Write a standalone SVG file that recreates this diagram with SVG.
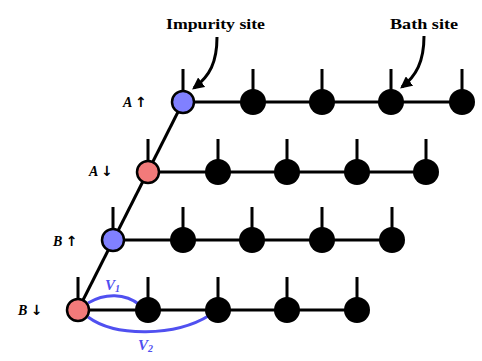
<svg xmlns="http://www.w3.org/2000/svg" width="482" height="361" viewBox="0 0 482 361">
<defs>
<style>
.ln{stroke:#000;stroke-width:3;fill:none;stroke-linecap:butt}
.bath{fill:#000}
.imp{stroke:#000;stroke-width:2.5}
.up{fill:#8080ff}
.dn{fill:#f27a7a}
.lbl{font-family:"Liberation Serif",serif;font-weight:bold;font-style:italic;font-size:14px;fill:#000}
.ar{font-family:"DejaVu Sans",sans-serif;font-style:normal;font-weight:bold;font-size:14px}
.ttl{font-family:"Liberation Serif",serif;font-weight:bold;font-size:14px;fill:#000}
.hyb{stroke:#5050f0;stroke-width:3;fill:none}
.vl{font-family:"Liberation Serif",serif;font-weight:bold;font-style:italic;font-size:15px;fill:#5050f0}
</style>
<marker id="ah" viewBox="0 0 10 10" refX="8" refY="5" markerWidth="4" markerHeight="4" orient="auto" markerUnits="strokeWidth">
<path d="M0,0 L10,5 L0,10 Z" fill="#000"/>
</marker>
</defs>
<rect width="482" height="361" fill="#fff"/>
<g id="connectors">
<path class="ln" d="M183,102 L78,310"/>
<path class="ln" d="M183,102 H462 M148,172 H426 M113,240 H392 M78,310 H357"/>
<path class="ln" d="M183,69 V102 M253,69 V102 M322,69 V102 M391,69 V102 M462,69 V102"/>
<path class="ln" d="M148,139 V172 M218,139 V172 M287,139 V172 M357,139 V172 M426,139 V172"/>
<path class="ln" d="M113,207 V240 M183,207 V240 M252,207 V240 M322,207 V240 M392,207 V240"/>
<path class="ln" d="M78,277 V310 M148,277 V310 M218,277 V310 M287,277 V310 M357,277 V310"/>
<path class="ln" d="M217,37 C217,62 210,76 194,88" marker-end="url(#ah)"/>
<path class="ln" d="M424,36 C424,62 416,76 402,87" marker-end="url(#ah)"/>
<path class="hyb" d="M88,303 C105,293 125,293 140,305"/>
<path class="hyb" d="M88,317 C115,337 175,337 210,315"/>
</g>
<g id="row-A-up">
<circle class="imp up" cx="183" cy="102" r="11"/>
<circle class="bath" cx="253" cy="102" r="13"/>
<circle class="bath" cx="322" cy="102" r="13"/>
<circle class="bath" cx="391" cy="102" r="13"/>
<circle class="bath" cx="462" cy="102" r="13"/>
<text class="lbl" x="123" y="107">A <tspan class="ar">↑</tspan></text>
</g>
<g id="row-A-down">
<circle class="imp dn" cx="148" cy="172" r="11"/>
<circle class="bath" cx="218" cy="172" r="13"/>
<circle class="bath" cx="287" cy="172" r="13"/>
<circle class="bath" cx="357" cy="172" r="13"/>
<circle class="bath" cx="426" cy="172" r="13"/>
<text class="lbl" x="89" y="176">A <tspan class="ar">↓</tspan></text>
</g>
<g id="row-B-up">
<circle class="imp up" cx="113" cy="240" r="11"/>
<circle class="bath" cx="183" cy="240" r="13"/>
<circle class="bath" cx="252" cy="240" r="13"/>
<circle class="bath" cx="322" cy="240" r="13"/>
<circle class="bath" cx="392" cy="240" r="13"/>
<text class="lbl" x="53" y="246">B <tspan class="ar">↑</tspan></text>
</g>
<g id="row-B-down">
<circle class="imp dn" cx="78" cy="310" r="11"/>
<circle class="bath" cx="148" cy="310" r="13"/>
<circle class="bath" cx="218" cy="310" r="13"/>
<circle class="bath" cx="287" cy="310" r="13"/>
<circle class="bath" cx="357" cy="310" r="13"/>
<text class="lbl" x="18" y="315">B <tspan class="ar">↓</tspan></text>
</g>
<g id="labels">
<text class="ttl" x="166" y="29" textLength="99" lengthAdjust="spacingAndGlyphs">Impurity site</text>
<text class="ttl" x="390" y="29" textLength="68" lengthAdjust="spacingAndGlyphs">Bath site</text>
<text class="vl" x="105" y="290">V<tspan font-size="10" dy="2">1</tspan></text>
<text class="vl" x="138" y="350">V<tspan font-size="10" dy="2">2</tspan></text>
</g>
</svg>
